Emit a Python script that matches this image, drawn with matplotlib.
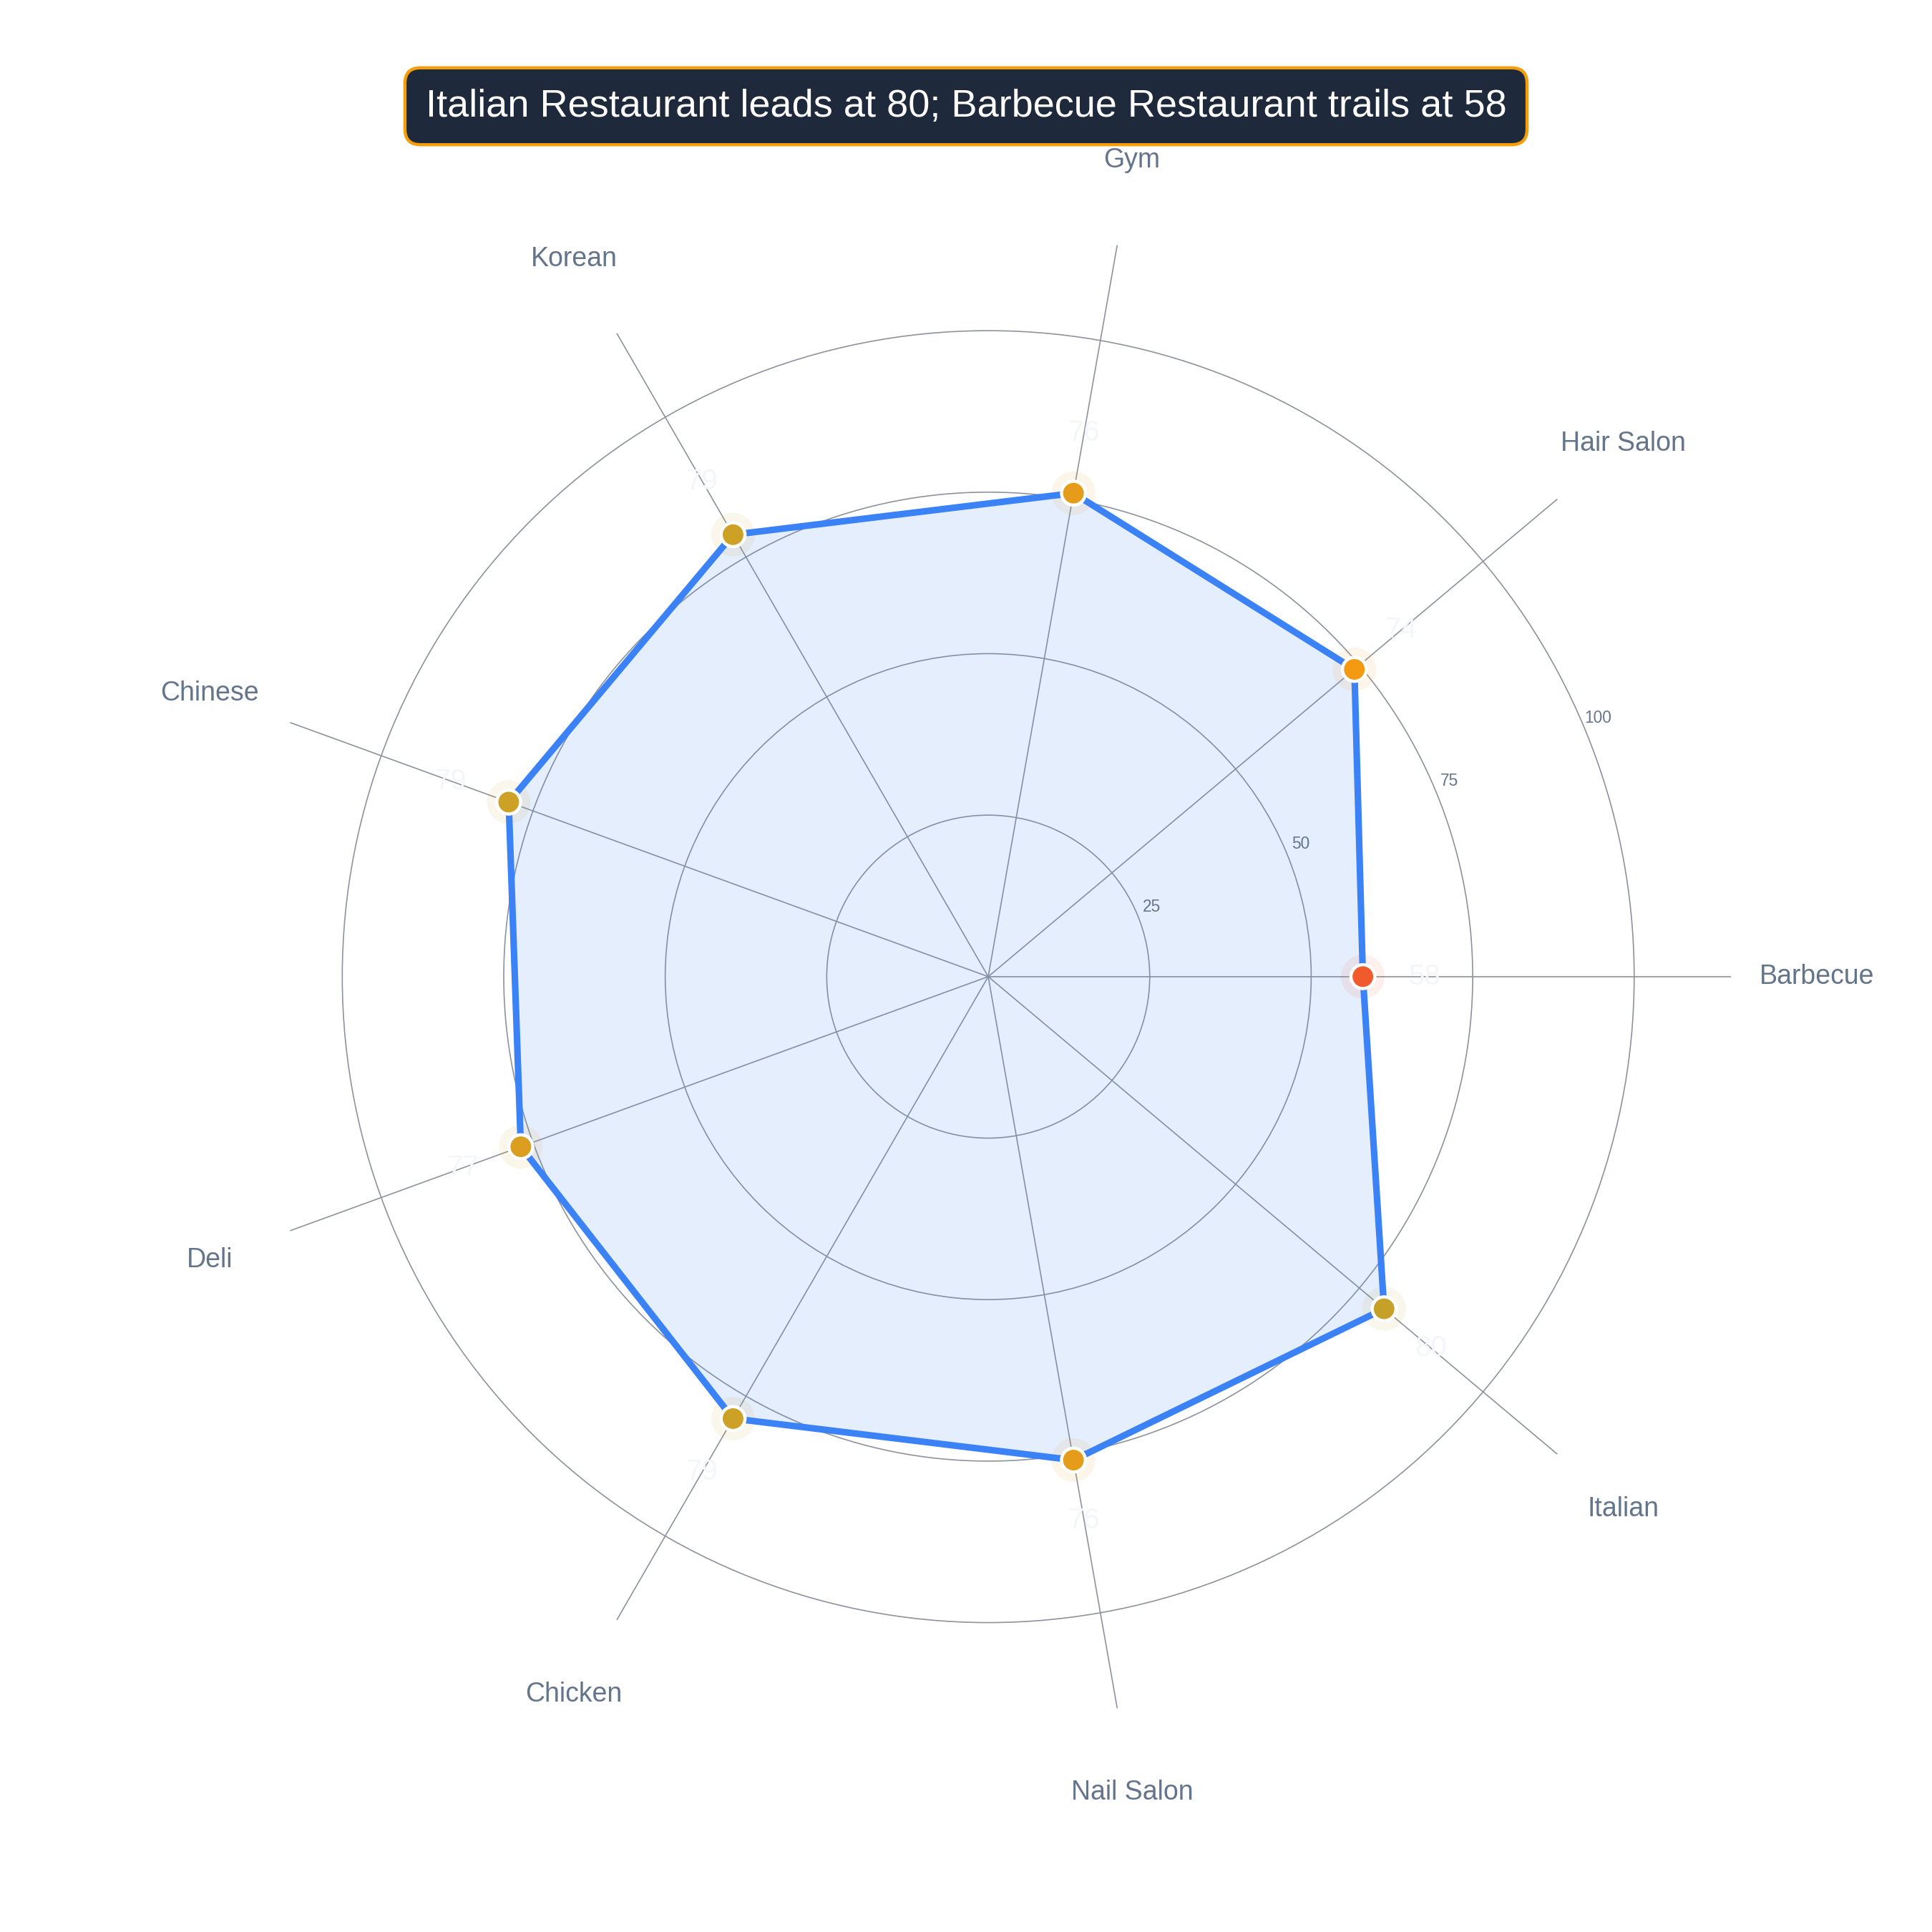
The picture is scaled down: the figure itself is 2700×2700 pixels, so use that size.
import numpy as np
import matplotlib
matplotlib.use("Agg")
import matplotlib.pyplot as plt
from matplotlib.colors import LinearSegmentedColormap, Normalize

plt.rcParams['font.family'] = ['Liberation Sans', 'DejaVu Sans']

# data
categories = ["Barbecue", "Hair Salon", "Gym", "Korean", "Chinese",
              "Deli", "Chicken", "Nail Salon", "Italian"]
scores = [58, 74, 76, 79, 79, 77, 79, 76, 80]
radial_ticks = [25, 50, 75, 100]
title_text = "Italian Restaurant leads at 80; Barbecue Restaurant trails at 58"

fig = plt.figure(figsize=(13.5, 13.5), dpi=200)
ax = fig.add_axes([0.127, 0.110, 0.769, 0.769], projection='polar')

n = len(categories)
theta = np.arange(n) * 2 * np.pi / n
theta_closed = np.append(theta, theta[0])
vals_closed = np.append(scores, scores[0])

# marker colours from low (red-orange) to high (gold)
cmap = LinearSegmentedColormap.from_list(
    "score", [(0.0, "#f05a2d"), (0.727, "#f39a12"), (1.0, "#c6a12a")])
norm = Normalize(vmin=min(scores), vmax=max(scores))
mcolors = [cmap(norm(v)) for v in scores]

ax.fill(theta_closed, vals_closed, color="#3b82f6", alpha=0.13, zorder=2, linewidth=0)
ax.scatter(theta, scores, s=22 ** 2, c=mcolors, alpha=0.09, linewidths=0, zorder=3)
ax.plot(theta_closed, vals_closed, color="#3b82f6", linewidth=3.3, zorder=4,
        solid_joinstyle='round')
ax.scatter(theta, scores, s=12 ** 2, c=mcolors, edgecolors="white",
           linewidths=1.6, zorder=5)

for t, v in zip(theta, scores):
    ax.text(t, v + 9.5, str(v), ha='center', va='center', fontsize=14.5,
            color="#f4f6f9", zorder=6)

ax.set_ylim(0, 115)
ax.set_xticks(theta)
ax.set_xticklabels([])
ax.set_yticks(radial_ticks)
ax.set_yticklabels([])
ax.grid(True, color="#8e939c", linewidth=0.6)
ax.spines['polar'].set_visible(False)
ax.set_facecolor("white")

for t, lab in zip(theta, categories):
    ax.text(t, 128.3, lab, ha='center', va='center', fontsize=13.5,
            color="#64748b")

for r in radial_ticks:
    ax.text(np.deg2rad(23), r + 2.5, str(r), ha='center', va='center',
            fontsize=8.2, color="#64748b")

fig.text(0.5, 0.945, title_text, ha='center', va='center', fontsize=19.5,
         color="white",
         bbox=dict(boxstyle="round,pad=0.53,rounding_size=0.4",
                   facecolor="#1e293b", edgecolor="#f59e0b", linewidth=1.6))

fig.savefig("out.png", dpi=200, facecolor="white")
